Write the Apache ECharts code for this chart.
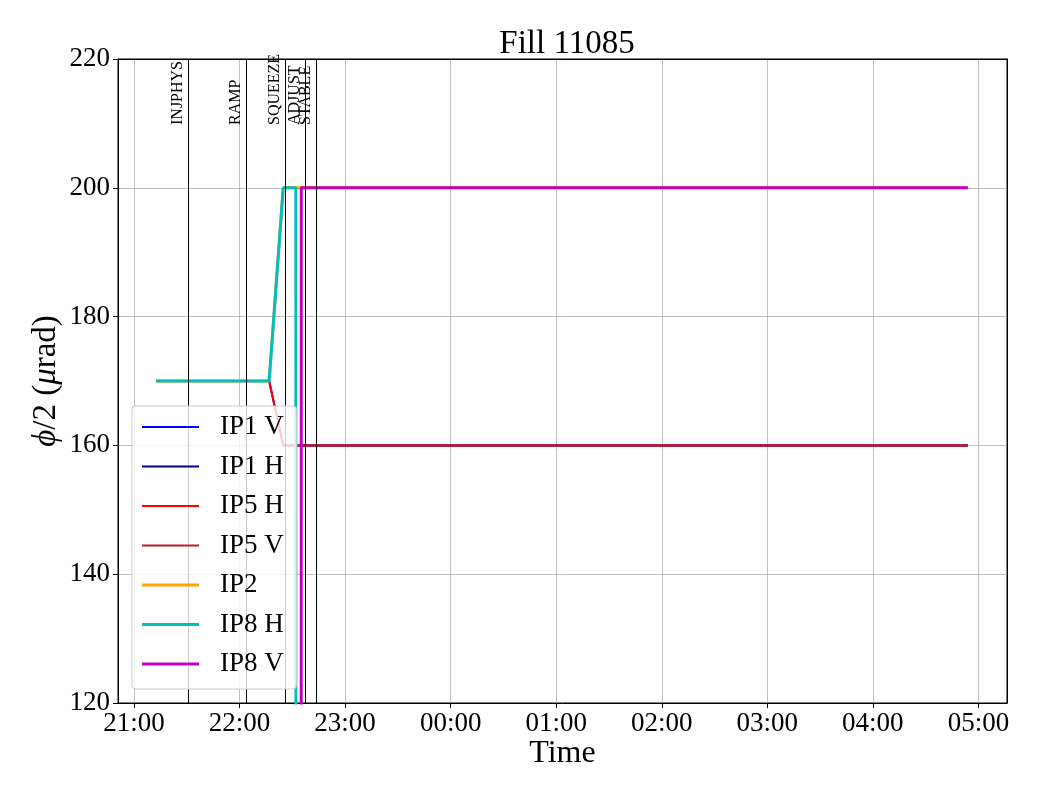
<!DOCTYPE html>
<html><head><meta charset="utf-8">
<script src="https://cdn.jsdelivr.net/npm/echarts@6/dist/echarts.min.js"></script>
<style>html,body{margin:0;padding:0;background:#fff}#c{width:1040px;height:800px}</style>
</head><body><div id="c"></div>
<script>
// ---------- data ----------
const chartTitle = 'Fill 11085';
const seriesNames = ['IP1 V', 'IP1 H', 'IP5 H', 'IP5 V', 'IP2', 'IP8 H', 'IP8 V'];

const ip1vTimes  = ['21:12:40', '22:16:50', '22:24:50', '04:54:00'];
const ip1vValues = [170, 170, 160, 160];
const ip1hTimes  = ['22:35:06', '04:54:00'];
const ip1hValues = [160, 160];
const ip5hTimes  = ['21:12:40', '22:16:50', '22:24:50', '04:54:00'];
const ip5hValues = [170, 170, 160, 160];
const ip5vTimes  = ['22:35:06', '04:54:00'];
const ip5vValues = [160, 160];
const ip2Times   = ['21:12:40', '22:16:50', '22:24:50', '04:54:00'];
const ip2Values  = [170, 170, 200, 200];
const ip8hTimes  = ['21:12:40', '22:16:50', '22:24:50', '22:32:00', '22:32:06', '04:54:00'];
const ip8hValues = [170, 170, 200, 200, 0, 0];
const ip8vTimes  = ['21:12:40', '22:35:00', '22:35:06', '04:54:00'];
const ip8vValues = [0, 0, 200, 200];

const phaseNames = ['INJPHYS', 'RAMP', 'SQUEEZE', 'ADJUST', 'STABLE'];
const phaseTimes = ['21:30:40', '22:03:55', '22:25:40', '22:37:05', '22:43:40'];

const xTickHours  = [21, 22, 23, 24, 25, 26, 27, 28, 29];
const xTickLabels = ['21:00', '22:00', '23:00', '00:00', '01:00', '02:00', '03:00', '04:00', '05:00'];
const xRange = ['20:50:55', '05:16:15'];
const yTicks = [120, 140, 160, 180, 200, 220];

// ---------- helpers ----------
function toHours(s) {
  const p = s.split(':').map(Number);
  let h = p[0] + p[1] / 60 + (p[2] || 0) / 3600;
  if (h < 12) h += 24;
  return h;
}
function pairs(times, values) { return times.map((t, i) => [toHours(t), values[i]]); }

const seriesData = [
  pairs(ip1vTimes, ip1vValues), pairs(ip1hTimes, ip1hValues),
  pairs(ip5hTimes, ip5hValues), pairs(ip5vTimes, ip5vValues),
  pairs(ip2Times, ip2Values), pairs(ip8hTimes, ip8hValues), pairs(ip8vTimes, ip8vValues)
];
const seriesColors = ['#0000ff', '#000080', '#ff0000', '#b22222', '#ffa500', '#00bfbf', '#bf00bf'];
const seriesWidths = [2, 2, 2, 2, 3, 3, 3];

const FONT = '"Liberation Serif", "DejaVu Serif", serif';
const yMin = yTicks[0], yMax = yTicks[yTicks.length - 1];

const chart = echarts.init(document.getElementById('c'), null, {renderer: 'canvas'});

const lineSeries = seriesNames.map((name, i) => ({
  name: name, type: 'line', data: seriesData[i], showSymbol: false, symbol: 'none',
  lineStyle: {color: seriesColors[i], width: seriesWidths[i]},
  itemStyle: {color: seriesColors[i]},
  animation: false, z: 2 + i * 0.01
}));

const phaseSeries = {
  type: 'custom', name: 'phases', clip: false, z: 3, silent: true, animation: false,
  data: phaseTimes.map(t => [toHours(t)]),
  encode: {x: 0},
  renderItem: function (params, api) {
    const x = api.value(0);
    const top = api.coord([x, yMax]);
    const bot = api.coord([x, yMin]);
    const px = Math.round(top[0]) + 0.5;
    return {
      type: 'group', children: [
        {type: 'line', shape: {x1: px, y1: top[1], x2: px, y2: bot[1]},
         style: {stroke: '#000', lineWidth: 1}},
        {type: 'text', x: px - 3, y: top[1] + 66, rotation: Math.PI / 2,
         style: {text: phaseNames[params.dataIndex], font: '16px ' + FONT, fill: '#000',
                 align: 'left', verticalAlign: 'bottom'}}
      ]
    };
  }
};

const option = {
  backgroundColor: '#fff',
  animation: false,
  title: {text: chartTitle, left: 562, top: 23, textAlign: 'center',
          textStyle: {fontFamily: FONT, fontSize: 33, fontWeight: 'normal', color: '#000'}},
  grid: {left: 118, right: 33, top: 59, bottom: 97, show: true, borderColor: '#000', borderWidth: 1, backgroundColor: 'transparent'},
  legend: {
    orient: 'vertical', left: 132, top: 406,
    data: seriesNames.map((n, i) => ({name: n,
      icon: seriesWidths[i] === 3 ? 'path://M0,0h57v3h-57z' : 'path://M0,0h57v2h-57z'})),
    itemWidth: 57, itemHeight: 14, itemGap: 9.5,
    padding: [6, 13, 10, 10],
    backgroundColor: 'rgba(255,255,255,0.8)', borderColor: '#cccccc', borderWidth: 1, borderRadius: 4,
    textStyle: {fontFamily: FONT, fontSize: 27, color: '#000', lineHeight: 30, padding: [0, 0, 0, 16]},
    selectedMode: false
  },
  xAxis: [{
    type: 'value', min: toHours(xRange[0]), max: toHours(xRange[1]), splitNumber: 8,
    name: 'Time', nameLocation: 'middle', nameGap: 35, nameMoveOverlap: false,
    nameTextStyle: {fontFamily: FONT, fontSize: 32, color: '#000'},
    axisLine: {show: true, onZero: false, lineStyle: {color: '#000', width: 1}},
    axisTick: {show: true, length: 5, inside: false, lineStyle: {color: '#000'}},
    axisLabel: {fontFamily: FONT, fontSize: 27, color: '#000', margin: 7, showMinLabel: false, showMaxLabel: false,
      formatter: function (v) {
        const k = xTickHours.findIndex(h => Math.abs(h - v) < 1e-6);
        return k >= 0 ? xTickLabels[k] : '';
      }},
    splitLine: {show: true, lineStyle: {color: '#b0b0b0', width: 0.8}}
  }, {
    type: 'value', position: 'top', min: toHours(xRange[0]), max: toHours(xRange[1]),
    axisLine: {show: true, onZero: false, lineStyle: {color: '#000'}},
    axisTick: {show: false}, axisLabel: {show: false}, splitLine: {show: false}
  }],
  yAxis: [{
    type: 'value', min: yMin, max: yMax, interval: 20,
    name: '{i|ϕ}/2 ({i|μ}rad)', nameLocation: 'middle', nameGap: 55, nameMoveOverlap: false,
    nameTextStyle: {fontFamily: FONT, fontSize: 33, color: '#000',
      rich: {i: {fontFamily: FONT, fontSize: 33, fontStyle: 'italic', color: '#000'}}},
    axisLine: {show: true, onZero: false, lineStyle: {color: '#000', width: 1}},
    axisTick: {show: true, length: 5, inside: false, lineStyle: {color: '#000'}},
    axisLabel: {fontFamily: FONT, fontSize: 27, color: '#000', margin: 8},
    splitLine: {show: true, lineStyle: {color: '#b0b0b0', width: 0.8}}
  }, {
    type: 'value', position: 'right', min: yMin, max: yMax, interval: 20,
    axisLine: {show: true, onZero: false, lineStyle: {color: '#000'}},
    axisTick: {show: false}, axisLabel: {show: false}, splitLine: {show: false}
  }],
  series: lineSeries.concat([phaseSeries])
};
chart.setOption(option);
</script>
</body></html>
